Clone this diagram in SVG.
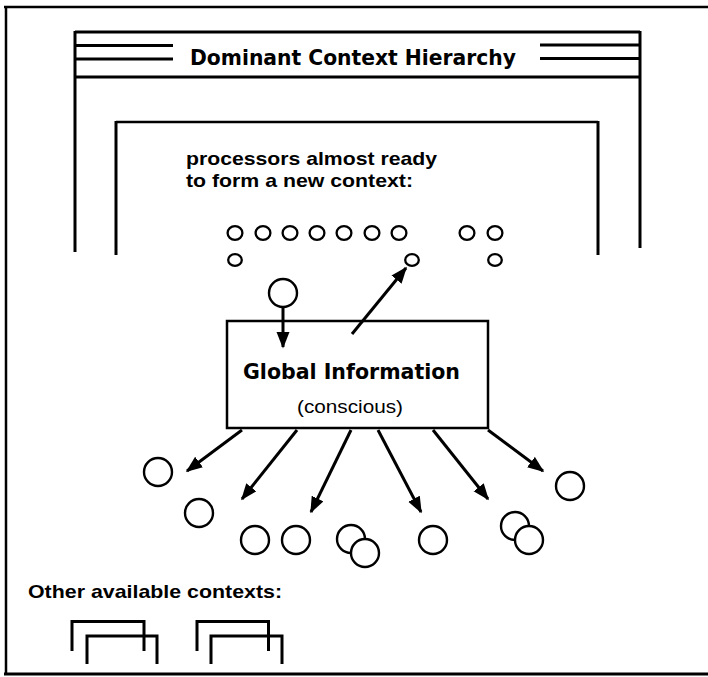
<svg xmlns="http://www.w3.org/2000/svg" width="708" height="677" viewBox="0 0 708 677">
<defs>
<style>
.ln{stroke:#000;fill:none;stroke-width:2.5}
.th{stroke:#000;fill:none;stroke-width:3}
.c{stroke:#000;fill:#fff;stroke-width:2.4}
.cs{stroke:#000;fill:#fff;stroke-width:2.3}
.ar{stroke:#000;fill:none;stroke-width:3}
.hd{font-family:"DejaVu Sans Condensed","DejaVu Sans",sans-serif;font-weight:bold;fill:#000}
.hv{font-family:"Liberation Sans",Arial,sans-serif;fill:#000}
</style>
<marker id="ah" markerUnits="userSpaceOnUse" markerWidth="18" markerHeight="14" refX="15" refY="6.5" orient="auto">
<path d="M0,0 L16.5,6.5 L0,13 z" fill="#000"/>
</marker>
</defs>
<rect width="708" height="677" fill="#fff"/>

<g id="frame">
<line class="ln" x1="4" y1="7" x2="708" y2="7"/>
<line class="ln" x1="6" y1="6" x2="6" y2="675"/>
<line class="th" x1="4" y1="674" x2="708" y2="674"/>
</g>

<g id="dominant-context">
<line class="th" x1="75" y1="32" x2="640" y2="32"/>
<line class="th" x1="75" y1="77" x2="640" y2="77"/>
<line class="th" x1="75" y1="31" x2="75" y2="252"/>
<line class="th" x1="640" y1="31" x2="640" y2="248"/>
<line class="th" x1="75" y1="45.5" x2="173" y2="45.5"/>
<line class="th" x1="75" y1="59" x2="173" y2="59"/>
<line class="th" x1="540" y1="45" x2="640" y2="45"/>
<line class="th" x1="540" y1="58.5" x2="640" y2="58.5"/>
<text class="hd" x="190" y="65" font-size="20.5" textLength="326" lengthAdjust="spacingAndGlyphs">Dominant Context Hierarchy</text>
</g>

<g id="new-context">
<line class="ln" x1="116" y1="122" x2="598" y2="122"/>
<line class="th" x1="116" y1="121" x2="116" y2="255"/>
<line class="th" x1="598" y1="121" x2="598" y2="255"/>
<text class="hv" font-weight="bold" x="186" y="165" font-size="19" textLength="251" lengthAdjust="spacingAndGlyphs">processors almost ready</text>
<text class="hv" font-weight="bold" x="186" y="187" font-size="19" textLength="227" lengthAdjust="spacingAndGlyphs">to form a new context:</text>
</g>

<g id="processors">
<ellipse class="cs" cx="235" cy="233" rx="7.4" ry="6.8"/>
<ellipse class="cs" cx="263" cy="233" rx="7.4" ry="6.8"/>
<ellipse class="cs" cx="290" cy="233" rx="7.4" ry="6.8"/>
<ellipse class="cs" cx="317" cy="233" rx="7.4" ry="6.8"/>
<ellipse class="cs" cx="344" cy="233" rx="7.4" ry="6.8"/>
<ellipse class="cs" cx="372" cy="233" rx="7.4" ry="6.8"/>
<ellipse class="cs" cx="399" cy="233" rx="7.4" ry="6.8"/>
<ellipse class="cs" cx="467" cy="233" rx="7.4" ry="6.8"/>
<ellipse class="cs" cx="495" cy="233" rx="7.4" ry="6.8"/>
<ellipse class="cs" cx="235" cy="260" rx="6.8" ry="5.8"/>
<ellipse class="cs" cx="495" cy="260" rx="6.8" ry="5.8"/>
</g>
<g id="processor-recruited">
<ellipse class="cs" cx="412" cy="260" rx="6.8" ry="5.8"/>
</g>
<g id="processor-input">
<circle class="c" cx="283" cy="293" r="14"/>
</g>

<g id="global-information">
<rect x="227" y="321" width="261" height="107" fill="#fff" stroke="#000" stroke-width="2.5"/>
<text class="hd" x="243" y="379" font-size="20.5" textLength="217" lengthAdjust="spacingAndGlyphs">Global Information</text>
<text class="hv" x="297" y="413" font-size="18" textLength="106" lengthAdjust="spacingAndGlyphs">(conscious)</text>
</g>

<g id="receivers">
<circle class="c" cx="158" cy="472" r="14"/>
<circle class="c" cx="199" cy="513" r="14"/>
<circle class="c" cx="255" cy="540" r="14"/>
<circle class="c" cx="296" cy="540" r="14"/>
<circle class="c" cx="351" cy="539" r="14"/>
<circle class="c" cx="365" cy="553" r="14"/>
<circle class="c" cx="433" cy="540" r="14"/>
<circle class="c" cx="515" cy="526" r="14"/>
<circle class="c" cx="529" cy="540" r="14"/>
<circle class="c" cx="570" cy="486" r="14"/>
</g>

<g id="connectors">
<line class="ar" x1="283" y1="307" x2="283" y2="347" marker-end="url(#ah)"/>
<line class="ar" x1="352" y1="334" x2="406" y2="268" marker-end="url(#ah)"/>
<line class="ar" x1="242" y1="430" x2="187" y2="471" marker-end="url(#ah)"/>
<line class="ar" x1="297" y1="430" x2="242" y2="499" marker-end="url(#ah)"/>
<line class="ar" x1="351" y1="430" x2="311" y2="512" marker-end="url(#ah)"/>
<line class="ar" x1="378" y1="430" x2="421" y2="512" marker-end="url(#ah)"/>
<line class="ar" x1="433" y1="430" x2="488" y2="499" marker-end="url(#ah)"/>
<line class="ar" x1="488" y1="430" x2="543" y2="471" marker-end="url(#ah)"/>
</g>

<g id="other-contexts">
<text class="hv" font-weight="bold" x="28" y="598" font-size="19" textLength="254" lengthAdjust="spacingAndGlyphs">Other available contexts:</text>
<g id="context-a">
<path class="th" d="M72,651 V621.5 H144 V651"/>
<path class="th" d="M87,664 V636 H157 V664"/>
</g>
<g id="context-b">
<path class="th" d="M197,651 V621.5 H268.5 V651"/>
<path class="th" d="M211,664 V636 H282 V664"/>
</g>
</g>
</svg>
